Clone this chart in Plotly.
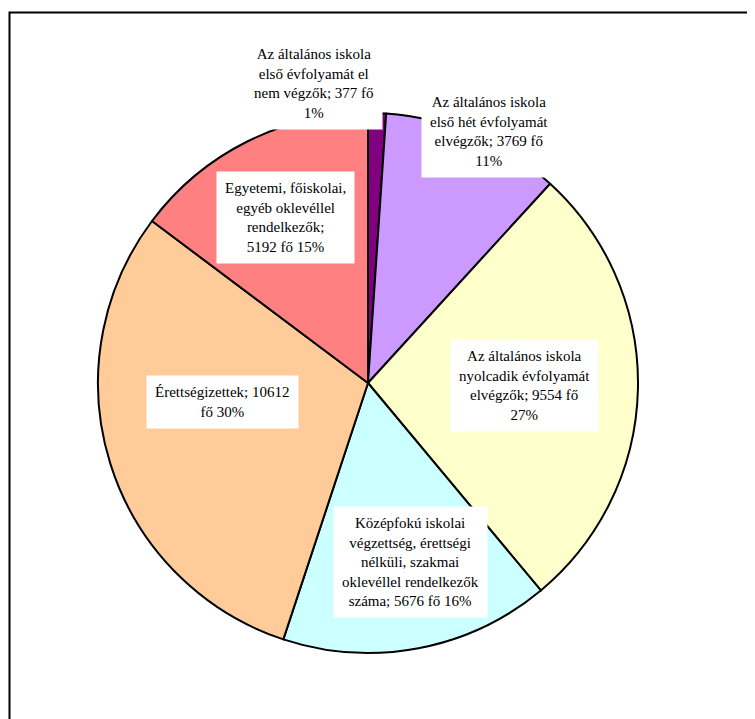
import plotly.graph_objects as go

# clockwise from 12 o'clock
categories = [
    "Az általános iskola első évfolyamát el nem végzők",
    "Az általános iskola első hét évfolyamát elvégzők",
    "Az általános iskola nyolcadik évfolyamát elvégzők",
    "Középfokú iskolai végzettség, érettségi nélküli, szakmai oklevéllel rendelkezők száma",
    "Érettségizettek",
    "Egyetemi, főiskolai, egyéb oklevéllel rendelkezők",
]
values = [377, 3769, 9554, 5676, 10612, 5192]
colors = ["#800080", "#CC99FF", "#FFFFCC", "#CCFFFF", "#FFCC99", "#FF8080"]

# label wrapping as in the original (value / percent filled in below)
label_templates = [
    "Az általános iskola<br>első évfolyamát el<br>nem végzők; {v} fő<br>{p}%",
    "Az általános iskola<br>első hét évfolyamát<br>elvégzők; {v} fő<br>{p}%",
    "Az általános iskola<br>nyolcadik évfolyamát<br>elvégzők; {v} fő<br>{p}%",
    "Középfokú iskolai<br>végzettség, érettségi<br>nélküli, szakmai<br>oklevéllel rendelkezők<br>száma; {v} fő {p}%",
    "Érettségizettek; {v}<br>fő {p}%",
    "Egyetemi, főiskolai,<br>egyéb oklevéllel<br>rendelkezők;<br>{v} fő {p}%",
]
# label box centres in page pixels
label_pos = [(314, 83), (489, 131), (524, 386), (410, 562), (222, 402), (285, 217)]

OFF = 8  # page body margin
W, H = 755 - OFF, 719 - OFF
cx, cy, r = 368, 383, 270


def to_paper(px_, py_):
    return (px_ - OFF) / W, 1 - (py_ - OFF) / H


total = sum(values)

x0, y_top = to_paper(cx - r, cy - r)
x1, y_bot = to_paper(cx + r, cy + r)

fig = go.Figure(
    go.Pie(
        labels=categories,
        values=values,
        sort=False,
        direction="clockwise",
        rotation=0,
        marker=dict(colors=colors, line=dict(color="black", width=2)),
        textinfo="none",
        showlegend=False,
        domain=dict(x=[x0, x1], y=[y_bot, y_top]),
    )
)

for tpl, v, (px_, py_) in zip(label_templates, values, label_pos):
    ax, ay = to_paper(px_, py_)
    fig.add_annotation(
        x=ax,
        y=ay,
        xref="paper",
        yref="paper",
        xanchor="center",
        yanchor="middle",
        text=tpl.format(v=v, p=round(v / total * 100)),
        showarrow=False,
        align="center",
        bgcolor="white",
        borderpad=8,
        font=dict(family="Liberation Serif", size=15, color="black"),
    )

# chart area frame (runs off the right and bottom edges)
fx0, fy1 = to_paper(9.5, 12.5)
fig.add_shape(
    type="rect",
    xref="paper",
    yref="paper",
    x0=fx0,
    x1=1.05,
    y0=-0.05,
    y1=fy1,
    line=dict(color="black", width=2),
)

fig.update_layout(
    width=W,
    height=H,
    margin=dict(l=0, r=0, t=0, b=0),
    paper_bgcolor="white",
    plot_bgcolor="white",
)

fig.write_html("out.html")
